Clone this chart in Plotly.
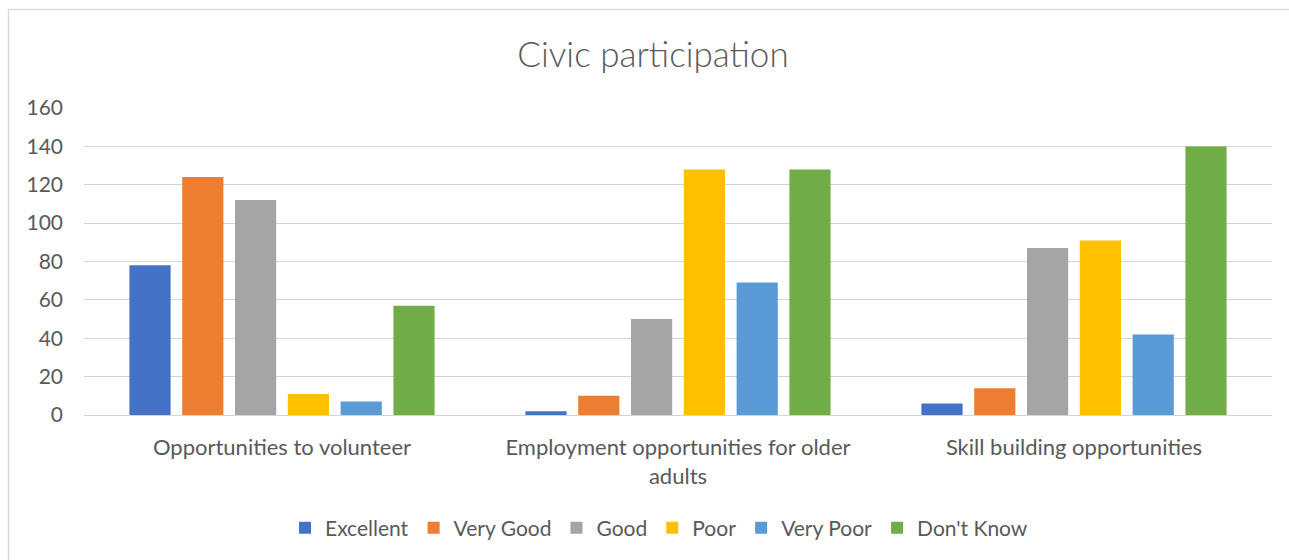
import plotly.graph_objects as go

# Survey categories and ratings
categories = [
    "Opportunities to volunteer",
    "Employment opportunities for older<br>adults",
    "Skill building opportunities",
]
ratings = ["Excellent", "Very Good", "Good", "Poor", "Very Poor", "Don't Know"]

excellent = [78, 2, 6]
very_good = [124, 10, 14]
good = [112, 50, 87]
poor = [11, 128, 91]
very_poor = [7, 69, 42]
dont_know = [57, 128, 140]

series_values = [excellent, very_good, good, poor, very_poor, dont_know]
colors = ["#4472C4", "#ED7D31", "#A5A5A5", "#FFC000", "#5B9BD5", "#70AD47"]

y_ticks = [0, 20, 40, 60, 80, 100, 120, 140, 160]

FONT = "Lato"
TEXT_COLOR = "#595959"
GRID_COLOR = "#D4D4D4"

fig = go.Figure()
for name, vals, col in zip(ratings, series_values, colors):
    fig.add_trace(go.Bar(
        name=name,
        x=categories,
        y=vals,
        marker=dict(color=col, line=dict(width=0)),
    ))

W, H = 1289, 560
ml, mr, mt, mb = 84, 17, 108, 145
pw = W - ml - mr
ph = H - mt - mb

def px_to_paper_x(px):
    return (px - ml) / pw

def px_to_paper_y(py):
    return (H - mb - py) / ph

fig.update_layout(
    width=W,
    height=H,
    margin=dict(l=ml, r=mr, t=mt, b=mb),
    paper_bgcolor="white",
    plot_bgcolor="white",
    barmode="group",
    bargap=0.2,
    bargroupgap=0.22,
    font=dict(family=FONT, size=21, color=TEXT_COLOR),
    title=dict(
        text="Civic participation",
        x=px_to_paper_x(653),
        xref="paper",
        xanchor="center",
        y=1 - 55 / H,
        yanchor="middle",
        font=dict(family=FONT, size=35, color=TEXT_COLOR, weight=300),
    ),
    showlegend=True,
    legend=dict(
        orientation="h",
        x=px_to_paper_x(659),
        xanchor="center",
        y=px_to_paper_y(528),
        yanchor="middle",
        font=dict(family=FONT, size=21, color=TEXT_COLOR),
        itemwidth=30,
        traceorder="normal",
    ),
    shapes=[
        dict(
            type="rect",
            xref="paper", yref="paper",
            x0=px_to_paper_x(8.5), x1=px_to_paper_x(W + 10),
            y0=px_to_paper_y(H + 10), y1=px_to_paper_y(9.5),
            line=dict(color="#D9D9D9", width=1.5),
            fillcolor="rgba(0,0,0,0)",
            layer="below",
        )
    ],
)

fig.update_yaxes(
    range=[0, 160],
    tickvals=y_ticks,
    showgrid=True,
    gridcolor=GRID_COLOR,
    gridwidth=1.3,
    zeroline=True,
    zerolinecolor=GRID_COLOR,
    zerolinewidth=1.3,
    showline=False,
    ticks="",
    ticklabelstandoff=20,
    tickfont=dict(family=FONT, size=21, color=TEXT_COLOR),
)
fig.update_xaxes(
    showgrid=False,
    showline=False,
    ticks="",
    tickfont=dict(family=FONT, size=22, color=TEXT_COLOR),
    ticklabelstandoff=17,
)

fig.write_html("out.html")
